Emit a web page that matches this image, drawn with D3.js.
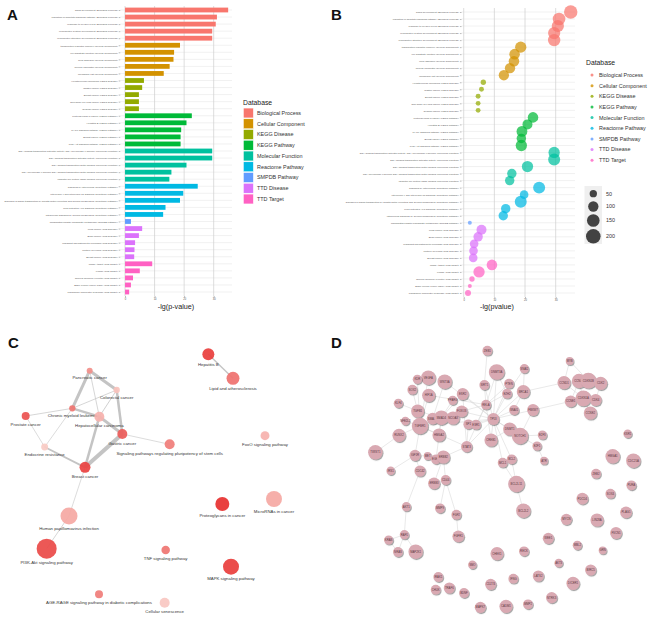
<!DOCTYPE html>
<html>
<head>
<meta charset="utf-8">
<script src="https://cdn.jsdelivr.net/npm/d3@7"></script>
<style>
body { margin: 0; background: #fff; }
svg { font-family: 'Liberation Sans', Arial, sans-serif; }
</style>
</head>
<body>
<svg id="fig" width="650" height="623"></svg>
<script>
// ---- enrichment data (panels A, B) ----
var databases = ['Biological Process', 'Cellular Component', 'KEGG Disease', 'KEGG Pathway',
	'Molecular Function', 'Reactome Pathway', 'SMPDB Pathway', 'TTD Disease', 'TTD Target'];
var dbColors = ['#F8766D', '#D39200', '#93AA00', '#00BA38', '#00C19F', '#00B9E3', '#619CFF', '#DB72FB', '#FF61C3'];

var terms = [
	'gland development', 'regulation of apoptotic signaling pathway', 'response to oxygen levels',
	'reproductive system development', 'reproductive structure development',
	'transcription regulator complex', 'cell-substrate junction', 'focal adhesion', 'nuclear chromatin', 'membrane raft',
	'Hepatocellular carcinoma', 'Gastric cancer', 'Breast cancer', 'Non-small cell lung cancer', 'Ovarian cancer',
	'Proteoglycans in cancer', 'Hepatitis B', 'MAPK signaling pathway', 'Breast cancer', 'PI3K-Akt signaling pathway',
	'DNA-binding transcription activator activity, RNA polymerase II-specific', 'DNA-binding transcription activator activity',
	'DNA-binding transcription factor binding', 'RNA polymerase II-specific DNA-binding transcription factor binding',
	'ubiquitin-like protein ligase binding',
	'Signaling by Interleukins', 'Interleukin-4 and Interleukin-13 signaling',
	'Diseases of signal transduction by growth factor receptors and second messengers',
	'PIP3 activates AKT signaling', 'Intracellular signaling by second messengers',
	'Phosphatidylinositol Phosphate Metabolism',
	'Lung cancer', 'Brain cancer', 'Malignant haematopoietic neoplasm', 'Multiple myeloma', 'Breast cancer',
	'miRNA target', 'Kinase', 'Nuclear hormone receptor', 'Basic leucine zipper (bZIP)', 'Phosphoric monoester hydrolase'
];
var termDb = [0,0,0,0,0, 1,1,1,1,1, 2,2,2,2,2, 3,3,3,3,3, 4,4,4,4,4, 5,5,5,5,5, 6, 7,7,7,7,7, 8,8,8,8,8];
var negLogP = [34.9, 31.1, 30.7, 29.5, 29.5,
	18.6, 16.6, 16.4, 15.1, 13.1,
	6.4, 5.8, 4.7, 4.7, 4.7,
	22.6, 20.8, 19.0, 18.8, 18.8,
	29.5, 29.5, 20.8, 15.7, 15.0,
	24.6, 19.7, 18.6, 13.7, 12.9,
	2.0,
	5.8, 4.7, 3.4, 3.2, 3.1,
	9.2, 5.0, 2.7, 2.0, 1.4];
var geneCount = [170, 150, 140, 140, 145,
	120, 105, 105, 100, 100,
	27, 23, 23, 22, 22,
	105, 94, 110, 83, 120,
	120, 135, 120, 83, 83,
	135, 70, 135, 83, 83,
	15,
	94, 83, 70, 70, 70,
	105, 120, 27, 15, 34];
var sizeBreaks = [50, 100, 150, 200];
var xTicks = [0, 10, 20, 30];

// ---- KEGG pathway network (panel C) ----
var pathNodes = ['Pancreatic cancer', 'Colorectal cancer', 'Chronic myeloid leukemia', 'Hepatocellular carcinoma',
	'Prostate cancer', 'Gastric cancer', 'Endocrine resistance', 'Signaling pathways regulating pluripotency of stem cells',
	'Breast cancer', 'Human papillomavirus infection', 'PI3K-Akt signaling pathway', 'Hepatitis B',
	'Lipid and atherosclerosis', 'FoxO signaling pathway', 'Proteoglycans in cancer', 'MicroRNAs in cancer',
	'TNF signaling pathway', 'MAPK signaling pathway', 'AGE-RAGE signaling pathway in diabetic complications',
	'Cellular senescence'];
var pathLayout = [[269,152],[350,210],[217,265],[298,290],[77,288],[367,342],[134,381],[509,373],
	[255,442],[207,588],[140,686],[625,103],[699,175],[795,347],[667,552],[822,537],[497,690],[693,740],
	[297,823],[494,848]];
var pathCount = [9, 10, 10, 25, 16, 25, 12, 25, 30, 72, 100, 36, 42, 20, 49, 64, 18, 64, 16, 25];
var pathSignif = [0.45, 0.15, 0.6, 0.25, 0.8, 0.75, 0.1, 0.55, 0.9, 0.3, 0.85, 0.92, 0.62, 0.25, 1.0, 0.3, 0.6, 0.92, 0.55, 0.12];
var pathLinks = [[0,1,3],[0,2,3],[0,3,0.7],[1,2,0.7],[1,3,0.8],[1,5,2.5],[2,4,0.7],[2,6,0.6],[2,3,2.5],[3,5,3],
	[3,8,2.5],[5,8,4],[4,6,0.6],[6,8,1.8],[5,7,0.6],[8,9,0.6],[9,10,0.7],[11,12,1.4]];

// ---- PPI network (panel D) ----
var ppiNodes = [
	['ZEB1',472,92,15],['DNMT3A',500,156,24],['SNAI2',583,146,14],['SIRT1',463,195,15],['PTEN',537,191,15],
	['EZH2',531,221,15],['BRCA1',580,215,20],['VEGFA',295,173,22],['KDR',262,178,14],['WNT3A',344,185,22],
	['SOX2',247,209,15],['HIF1A',296,226,20],['ESR2',398,222,18],['PPARG',368,241,14],['KLF4',205,250,14],
	['TGFB1',263,273,20],['NFE2L2',226,303,13],['TGFBR1',270,318,25],['SMAD2',308,296,18],['SMAD4',334,293,22],
	['NCOA3',369,294,20],['FOXO3',395,274,18],['SP1',415,313,15],['ESR1',438,314,15],['RELA',468,254,15],
	['TP53',490,297,18],['HMGA2',327,345,20],['RUNX2',207,346,20],['TWIST1',136,397,22],['IGF1R',255,406,17],
	['MET',293,408,12],['EGFR',318,418,15],['ERBB2',340,411,20],['STAT3',410,380,17],['CREB1',483,360,20],
	['DNMT1',539,327,20],['NOTCH1',570,348,25],['E2F3',637,345,14],['E2F1',621,378,14],['ATR',642,422,12],
	['MCL1',518,428,15],['BCL2',545,418,15],['BCL2L11',559,492,25],['BCL2L2',580,572,22],['FBXW7',609,270,18],
	['SNAI1',552,270,15],['CCND1',702,188,20],['MYB',719,123,12],['CCNA2',747,183,22],['CDKN1B',775,182,24],
	['CDK2',812,190,20],['CCNE1',722,244,18],['CDKN1A',760,235,24],['CDK4',797,240,18],['CCNE2',781,279,20],
	['IRS1',182,452,13],['CDC42',270,453,17],['ERBB3',312,490,18],['CD44',347,480,15],['AKT1',229,560,14],
	['MMP9',330,565,15],['FGF2',379,584,15],['FGFR1',385,649,18],['RAF1',223,644,14],['KRAS',176,660,14],
	['NRAS',204,696,15],['MAP2K1',257,695,22],['SMO',427,734,13],['CHEK1',501,701,20],['RECK',582,694,15],
	['IRAK1',325,771,15],['CHUK',317,809,15],['TRAF6',358,804,17],['BDNF',402,819,15],['CD274',482,793,17],
	['MAPK7',451,862,17],['IFNG',550,776,15],['LATS2',625,768,17],['CADM1',528,859,20],['MMP2',594,853,15],
	['NTRK3',665,833,17],['DICER1',729,790,20],['AKT3',686,729,13],['BIRC5',782,750,17],['MBL2',742,676,14],
	['GRN',818,691,12],['WEE1',655,655,17],['MYCN',709,598,17],['LIN28A',801,600,20],['FSCN1',858,639,18],
	['PLAG1',888,577,18],['PDCD4',757,536,18],['SOX4',841,521,15],['PURA',904,496,15],['ZEB2',798,461,15],
	['HMGA1',848,409,22],['CDC25A',910,422,22],['KSR1',893,341,13]
];
var ppiLinks = [
	['ZEB1','SIRT1'],['SIRT1','RELA'],['SIRT1','TP53'],['DNMT3A','TP53'],['DNMT3A','EZH2'],['DNMT3A','RELA'],
	['SNAI2','EZH2'],['SNAI2','BRCA1'],['PTEN','TP53'],['PTEN','RELA'],['EZH2','TP53'],['EZH2','RELA'],
	['BRCA1','TP53'],['BRCA1','CCND1'],['BRCA1','SNAI1'],['FBXW7','CCNE1'],['FBXW7','TP53'],['FBXW7','NOTCH1'],
	['SNAI1','TP53'],['CCND1','MYB'],['CCND1','CDKN1B'],['CCND1','CDKN1A'],['MYB','CDKN1B'],['CDKN1B','CDK2'],
	['CDKN1A','CCNE1'],['CDKN1A','CDK4'],['CDKN1A','CCNE2'],['CCNA2','CDKN1A'],['CCNE1','CCNA2'],['CDK2','CDK4'],
	['VEGFA','TGFBR1'],['KDR','TGFBR1'],['WNT3A','SMAD2'],['SOX2','TGFB1'],['HIF1A','TGFBR1'],['KLF4','TGFB1'],
	['NFE2L2','TGFBR1'],['RUNX2','TGFBR1'],['TWIST1','RUNX2'],['TGFB1','SMAD4'],['TGFBR1','SMAD4'],['SMAD4','NCOA3'],
	['SMAD4','FOXO3'],['ESR2','SMAD4'],['PPARG','SMAD4'],['HMGA2','SMAD4'],['HMGA2','TGFBR1'],['FOXO3','RELA'],
	['FOXO3','TP53'],['SP1','TP53'],['ESR1','TP53'],['SP1','STAT3'],['ESR1','RELA'],['STAT3','TP53'],
	['CREB1','TP53'],['DNMT1','TP53'],['NOTCH1','TP53'],['NOTCH1','E2F1'],['NOTCH1','E2F3'],['E2F1','ATR'],
	['BCL2','TP53'],['MCL1','TP53'],['BCL2','MCL1'],['BCL2L11','MCL1'],['BCL2L11','BCL2'],['BCL2L11','BCL2L2'],
	['IGF1R','TGFBR1'],['IGF1R','IRS1'],['IGF1R','CDC42'],['IGF1R','MET'],['MET','ERBB2'],['EGFR','ERBB2'],
	['ERBB2','STAT3'],['EGFR','SMAD4'],['ERBB2','CD44'],['CD44','ERBB3'],['ERBB3','ERBB2'],['CD44','MMP9'],
	['CD44','FGF2'],['FGF2','FGFR1'],['CDC42','AKT1'],['AKT1','RAF1'],['RAF1','KRAS'],['RAF1','NRAS'],
	['KRAS','NRAS'],['RAF1','MAP2K1'],['STAT3','TGFBR1'],['STAT3','RELA'],['CREB1','RELA'],['STAT3','ESR2'],
	['TGFBR1','TP53'],['WNT3A','TP53'],['HIF1A','RELA'],['ESR2','TP53'],['DNMT1','CREB1']
];

var svg = d3.select('#fig');

function panelLetter(t, x, y) {
	svg.append('text').attr('x', x).attr('y', y).text(t)
		.style('font-size', '15px').style('font-weight', 'bold').style('fill', '#111');
}

// shared row scaffolding for A and B
function drawRows(g, x, y, xLeft, xRight, xlabel, xlabelX) {
	// horizontal grid per term
	g.selectAll('.hgrid').data(d3.range(terms.length)).enter().append('line')
		.attr('x1', xLeft).attr('x2', xRight)
		.attr('y1', function(i) { return y(i); }).attr('y2', function(i) { return y(i); })
		.style('stroke', '#e2e2e2').style('stroke-width', 0.5);
	// vertical grid at ticks
	g.selectAll('.vgrid').data(xTicks).enter().append('line')
		.attr('x1', function(d) { return x(d); }).attr('x2', function(d) { return x(d); })
		.attr('y1', y(0) - 4).attr('y2', y(terms.length - 1) + 4)
		.style('stroke', '#cfcfcf').style('stroke-width', 0.7);

	var yAxis = g.append('g').attr('transform', 'translate(' + xLeft + ',0)')
		.call(d3.axisLeft(y).tickSize(1.6).tickPadding(1)
			.tickFormat(function(i) { return terms[i] + ' (' + databases[termDb[i]] + ')'; }));
	yAxis.select('.domain').remove();
	yAxis.selectAll('text').style('font-size', '2.45px').style('fill', '#555').style('font-family', 'Liberation Sans, Arial');
	yAxis.selectAll('line').style('stroke', '#555').style('stroke-width', 0.4);

	var xAxis = g.append('g').attr('transform', 'translate(0,' + (y(terms.length - 1) + 4) + ')')
		.call(d3.axisBottom(x).tickValues(xTicks).tickSize(1.5).tickPadding(1));
	xAxis.select('.domain').remove();
	xAxis.selectAll('text').style('font-size', '2.6px').style('fill', '#555').style('font-family', 'Liberation Sans, Arial');
	xAxis.selectAll('line').style('stroke', '#555').style('stroke-width', 0.4);

	g.append('text').attr('x', xlabelX).attr('y', 309).attr('text-anchor', 'middle')
		.text(xlabel).style('font-size', '7.2px').style('fill', '#222');
}

function drawLegendTitle(g, x, y) {
	g.append('text').attr('x', x).attr('y', y).text('Database')
		.style('font-size', '6.8px').style('fill', '#222');
}

function drawBars() {
	var g = svg.append('g');
	var x = d3.scaleLinear().domain([-1.6, 36.2]).range([120.3, 232]);
	var y = d3.scalePoint().domain(d3.range(terms.length)).range([10, 292]);
	drawRows(g, x, y, 120.3, 232, '-lg(p-value)', 176);

	var bh = y.step() * 0.68;
	g.selectAll('.bar').data(d3.range(terms.length)).enter().append('rect')
		.attr('x', x(0)).attr('y', function(i) { return y(i) - bh / 2; })
		.attr('width', function(i) { return x(negLogP[i]) - x(0); })
		.attr('height', bh)
		.style('fill', function(i) { return dbColors[termDb[i]]; });

	// legend
	var lg = g.append('g');
	drawLegendTitle(lg, 243, 104.5);
	databases.forEach(function(d, i) {
		var cy = 113 + i * 10.75;
		lg.append('rect').attr('x', 243.5).attr('y', cy - 4.9).attr('width', 9.8).attr('height', 9.8)
			.style('fill', dbColors[i]).style('stroke', '#fff').style('stroke-width', 0.4);
		lg.append('text').attr('x', 257).attr('y', cy + 1.9).text(d)
			.style('font-size', '5.4px').style('fill', '#333');
	});
}

function drawDots() {
	var g = svg.append('g');
	var x = d3.scaleLinear().domain([-0.72, 36.3]).range([461.5, 575]);
	var y = d3.scalePoint().domain(d3.range(terms.length)).range([12, 293]);
	var r = d3.scaleSqrt().domain([0, 200]).range([0, 7.3]);
	drawRows(g, x, y, 461.5, 575, '-lg(pvalue)', 497);

	g.selectAll('.dot').data(d3.range(terms.length)).enter().append('circle')
		.attr('cx', function(i) { return x(negLogP[i]); })
		.attr('cy', function(i) { return y(i); })
		.attr('r', function(i) { return r(geneCount[i]); })
		.style('fill', function(i) { return dbColors[termDb[i]]; })
		.style('fill-opacity', 0.72);

	var lg = g.append('g');
	drawLegendTitle(lg, 586, 65);
	databases.forEach(function(d, i) {
		var cy = 75 + i * 10.65;
		lg.append('circle').attr('cx', 592).attr('cy', cy).attr('r', 1.5)
			.style('fill', dbColors[i]).style('fill-opacity', 0.8);
		lg.append('text').attr('x', 599).attr('y', cy + 1.9).text(d)
			.style('font-size', '5.4px').style('fill', '#333');
	});

	// size legend
	lg.append('rect').attr('x', 584.5).attr('y', 186).attr('width', 17.5).attr('height', 58)
		.style('fill', '#efefef');
	var sy = [193.7, 206.5, 220.5, 236.3];
	sizeBreaks.forEach(function(d, i) {
		lg.append('circle').attr('cx', 593.3).attr('cy', sy[i]).attr('r', r(d))
			.style('fill', '#333').style('fill-opacity', 0.92);
		lg.append('text').attr('x', 606).attr('y', sy[i] + 1.9).text(d)
			.style('font-size', '5.4px').style('fill', '#333');
	});
}

function drawPathwayNet() {
	var g = svg.append('g');
	var x = d3.scaleLinear().domain([0, 990]).range([0, 330]);
	var y = d3.scaleLinear().domain([0, 900]).range([320, 620]);
	var r = d3.scaleSqrt().domain([0, 100]).range([0, 10]);
	var col = d3.scaleLinear().domain([0, 1]).range(['#fbdcd5', '#e7302f']);

	g.selectAll('.link').data(pathLinks).enter().append('line')
		.attr('x1', function(d) { return x(pathLayout[d[0]][0]); })
		.attr('y1', function(d) { return y(pathLayout[d[0]][1]); })
		.attr('x2', function(d) { return x(pathLayout[d[1]][0]); })
		.attr('y2', function(d) { return y(pathLayout[d[1]][1]); })
		.style('stroke', '#c4c4c4').style('stroke-width', function(d) { return d[2]; });

	var nodes = g.selectAll('.node').data(d3.range(pathNodes.length)).enter().append('g');
	nodes.append('circle')
		.attr('cx', function(i) { return x(pathLayout[i][0]); })
		.attr('cy', function(i) { return y(pathLayout[i][1]); })
		.attr('r', function(i) { return r(pathCount[i]); })
		.style('fill', function(i) { return col(pathSignif[i]); })
		.style('fill-opacity', 0.92);
	nodes.append('text')
		.attr('x', function(i) { return x(pathLayout[i][0]); })
		.attr('y', function(i) { return y(pathLayout[i][1]) + r(pathCount[i]) + 5.6; })
		.attr('text-anchor', 'middle')
		.text(function(i) { return pathNodes[i]; })
		.style('font-size', '4.3px').style('fill', '#333');
}

function drawPPI() {
	var g = svg.append('g');
	var x = d3.scaleLinear().domain([0, 960]).range([330, 650]);
	var y = d3.scaleLinear().domain([0, 900]).range([320, 620]);
	var r = d3.scaleLinear().domain([0, 25]).range([0, 8.2]);
	var byName = {};
	ppiNodes.forEach(function(n) { byName[n[0]] = n; });

	var defs = svg.append('defs');
	var f = defs.append('filter').attr('id', 'shadow').attr('x', '-50%').attr('y', '-50%')
		.attr('width', '200%').attr('height', '200%');
	f.append('feDropShadow').attr('dx', 0.9).attr('dy', 1.1).attr('stdDeviation', 0.7)
		.attr('flood-color', '#555').attr('flood-opacity', 0.55);

	g.selectAll('.plink').data(ppiLinks).enter().append('line')
		.attr('x1', function(d) { return x(byName[d[0]][1]); })
		.attr('y1', function(d) { return y(byName[d[0]][2]); })
		.attr('x2', function(d) { return x(byName[d[1]][1]); })
		.attr('y2', function(d) { return y(byName[d[1]][2]); })
		.style('stroke', '#d2d2d2').style('stroke-width', 0.5);

	var nodes = g.selectAll('.pnode').data(ppiNodes).enter().append('g');
	nodes.append('circle')
		.attr('cx', function(d) { return x(d[1]); })
		.attr('cy', function(d) { return y(d[2]); })
		.attr('r', function(d) { return r(d[3]); })
		.attr('filter', 'url(#shadow)')
		.style('fill', '#d9a9b2');
	nodes.append('text')
		.attr('x', function(d) { return x(d[1]); })
		.attr('y', function(d) { return y(d[2]) + 1; })
		.attr('text-anchor', 'middle')
		.text(function(d) { return d[0]; })
		.style('font-size', '2.8px').style('fill', '#5b3640');
}

drawBars();
drawDots();
drawPathwayNet();
drawPPI();
panelLetter('A', 7, 20);
panelLetter('B', 331, 20);
panelLetter('C', 8, 348);
panelLetter('D', 331, 348);
</script>
</body>
</html>
